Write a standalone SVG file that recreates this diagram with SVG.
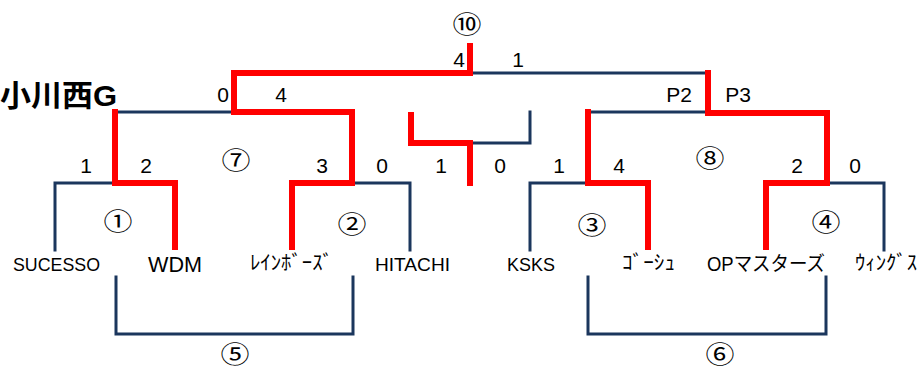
<svg xmlns="http://www.w3.org/2000/svg" width="919" height="371" viewBox="0 0 919 371">
<style>
.b{fill:none;stroke:#1B365D;stroke-width:3;stroke-linecap:square;stroke-linejoin:miter}
.r{fill:none;stroke:#FF0000;stroke-width:6;stroke-linecap:butt;stroke-linejoin:miter}
.s{font-family:"Liberation Sans","Noto Sans CJK JP",sans-serif;font-size:21px;fill:#000;text-anchor:middle}
.c{font-family:"Noto Sans CJK JP",sans-serif;font-size:24px;fill:#000;text-anchor:middle}
.t{font-family:"Liberation Sans","Noto Sans CJK JP",sans-serif;font-size:18px;fill:#000}
.k{font-family:"Noto Sans CJK JP",sans-serif;font-size:20px;fill:#000}
.g{font-family:"Liberation Sans","Noto Sans CJK JP",sans-serif;font-size:30px;font-weight:bold;fill:#000}
</style>
<rect width="919" height="371" fill="#fff"/>
<g id="connectors">
<path class="b" d="M55,250 V183 H115"/>
<path class="b" d="M352,183 H410 V250"/>
<path class="b" d="M530,250 V183 H588"/>
<path class="b" d="M827,183 H884 V250"/>
<path class="b" d="M115,112 H234"/>
<path class="b" d="M588,112 H708"/>
<path class="b" d="M470,73 H708"/>
<path class="b" d="M470,143 H530 V112"/>
<path class="b" d="M116,277 V334 H353 V277"/>
<path class="b" d="M588,277 V334 H826 V277"/>
<path class="r" d="M175,250 V183 H115 V109"/>
<path class="r" d="M292,250 V183 H352 V112 H234 V73 H470 V43"/>
<path class="r" d="M234,112 V70"/>
<path class="r" d="M411,112 V143 H470 V186"/>
<path class="r" d="M648,250 V183 H588 V109"/>
<path class="r" d="M766,250 V183 H827 V113 H708 V70"/>
</g>
<g id="title"><text class="g" x="0" y="106" textLength="117" lengthAdjust="spacingAndGlyphs">小川西G</text></g>
<g id="scores">
<text class="s" x="459" y="67">4</text>
<text class="s" x="518" y="67">1</text>
<text class="s" x="223" y="102">0</text>
<text class="s" x="281" y="102">4</text>
<text class="s" x="679" y="102">P2</text>
<text class="s" x="738" y="102">P3</text>
<text class="s" x="86" y="173">1</text>
<text class="s" x="146" y="173">2</text>
<text class="s" x="322" y="173">3</text>
<text class="s" x="382" y="173">0</text>
<text class="s" x="441" y="173">1</text>
<text class="s" x="500" y="173">0</text>
<text class="s" x="559" y="173">1</text>
<text class="s" x="619" y="173">4</text>
<text class="s" x="797" y="173">2</text>
<text class="s" x="855" y="173">0</text>
</g>
<g id="match-numbers">
<text class="c" x="467" y="33" textLength="29" lengthAdjust="spacingAndGlyphs">⑩</text>
<text class="c" x="236" y="169" textLength="29" lengthAdjust="spacingAndGlyphs">⑦</text>
<text class="c" x="710" y="167" textLength="29" lengthAdjust="spacingAndGlyphs">⑧</text>
<text class="c" x="118" y="230" textLength="29" lengthAdjust="spacingAndGlyphs">①</text>
<text class="c" x="352" y="233" textLength="29" lengthAdjust="spacingAndGlyphs">②</text>
<text class="c" x="592" y="234" textLength="29" lengthAdjust="spacingAndGlyphs">③</text>
<text class="c" x="826" y="231" textLength="29" lengthAdjust="spacingAndGlyphs">④</text>
<text class="c" x="235" y="363" textLength="29" lengthAdjust="spacingAndGlyphs">⑤</text>
<text class="c" x="720" y="363" textLength="29" lengthAdjust="spacingAndGlyphs">⑥</text>
</g>
<g id="team-sucesso"><text class="t" x="13" y="271" textLength="87" lengthAdjust="spacingAndGlyphs">SUCESSO</text></g>
<g id="team-wdm"><text class="t" x="148" y="272" style="font-size:22px" textLength="54" lengthAdjust="spacingAndGlyphs">WDM</text></g>
<g id="team-rainbows"><text class="k" x="250" y="270" textLength="83" lengthAdjust="spacingAndGlyphs">ﾚｲﾝﾎﾞｰｽﾞ</text></g>
<g id="team-hitachi"><text class="t" x="375" y="271" textLength="75" lengthAdjust="spacingAndGlyphs">HITACHI</text></g>
<g id="team-ksks"><text class="t" x="507" y="271" textLength="48" lengthAdjust="spacingAndGlyphs">KSKS</text></g>
<g id="team-gosh"><text class="k" x="622" y="270" textLength="53" lengthAdjust="spacingAndGlyphs">ｺﾞｰｼｭ</text></g>
<g id="team-opmasters"><text class="t" x="707" y="271" style="font-size:20px" textLength="118" lengthAdjust="spacingAndGlyphs">OPマスターズ</text></g>
<g id="team-wings"><text class="k" x="855" y="270" textLength="62" lengthAdjust="spacingAndGlyphs">ｳｨﾝｸﾞｽ</text></g>
</svg>
